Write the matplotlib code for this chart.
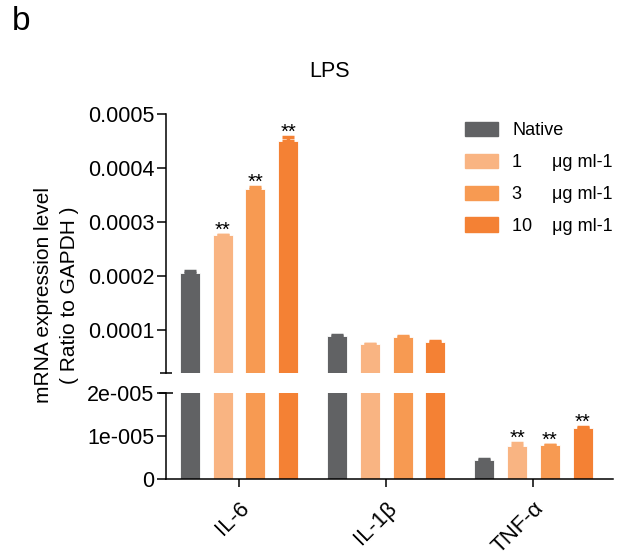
import numpy as np
import matplotlib.pyplot as plt
from matplotlib.patches import Patch

plt.rcParams['font.family'] = ['Liberation Sans', 'DejaVu Sans']

genes = ['IL-6', 'IL-1β', 'TNF-α']
groups = ['Native', '1', '3', '10']
group_labels = ['Native', '1      μg ml-1', '3      μg ml-1', '10    μg ml-1']
colors = ['#616264', '#f9b482', '#f79a52', '#f48134']

# mean expression (ratio to GAPDH), one list per dose, in gene order
native = [0.000205, 0.000089, 0.0000045]
dose1 = [0.000275, 0.0000725, 0.0000076]
dose3 = [0.000360, 0.000086, 0.0000079]
dose10 = [0.000450, 0.0000762, 0.0000119]

# upper SD
native_err = [0.000003, 0.000001, 0.0000001]
dose1_err = [0.0000005, 0.000001, 0.0000008]
dose3_err = [0.000004, 0.000002, 0.0000001]
dose10_err = [0.000007, 0.000003, 0.0000002]

# significance vs native
native_sig = ['', '', '']
dose1_sig = ['**', '', '**']
dose3_sig = ['**', '', '**']
dose10_sig = ['**', '', '**']

means = [native, dose1, dose3, dose10]
errs = [native_err, dose1_err, dose3_err, dose10_err]
sigs = [native_sig, dose1_sig, dose3_sig, dose10_sig]

up_ticks = [0.0001, 0.0002, 0.0003, 0.0004, 0.0005]
low_ticks = [0, 0.00001, 0.00002]
low_tick_labels = ['0', '1e-005', '2e-005']

fig = plt.figure(figsize=(6.25, 5.57), dpi=100)
ax_up = fig.add_axes([0.2656, 0.3309, 0.7152, 0.4644])
ax_lo = fig.add_axes([0.2656, 0.1395, 0.7152, 0.1555])

x = np.arange(len(genes))
step = 0.222
width = 0.136

for ax in (ax_up, ax_lo):
    for i in range(len(groups)):
        xs = x + (i - 1.5) * step
        ax.bar(xs, means[i], width=width, color=colors[i], edgecolor='white',
               linewidth=0.6, label=group_labels[i])
        ax.errorbar(xs, means[i], yerr=[np.zeros(len(genes)), errs[i]], fmt='none',
                    ecolor=colors[i], elinewidth=2.5, capsize=4.5, capthick=2.5)
    ax.set_xlim(-0.496, 2.54)
    for s in ['top', 'right']:
        ax.spines[s].set_visible(False)
    for s in ['left', 'bottom']:
        ax.spines[s].set_linewidth(1.1)
    ax.tick_params(axis='y', direction='out', length=6.5, width=1.1, labelsize=15.5, pad=2)

ax_up.set_ylim(0.00002, 0.0005)
ax_up.set_yticks(up_ticks)
ax_up.set_yticklabels([f'{v:.4f}' for v in up_ticks])
ax_up.spines['bottom'].set_visible(False)
ax_up.tick_params(axis='x', bottom=False, labelbottom=False)
ax_up.plot(0, 0, marker='_', markersize=8.5, mew=1.1, color='black',
           transform=ax_up.transAxes, clip_on=False)

ax_lo.set_ylim(0, 0.00002)
ax_lo.set_yticks(low_ticks)
ax_lo.set_yticklabels(low_tick_labels)
ax_lo.plot(0, 1, marker='_', markersize=10, mew=1.1, color='black',
           transform=ax_lo.transAxes, clip_on=False)
ax_lo.set_xticks(x)
ax_lo.set_xticklabels(genes, rotation=45, ha='right', va='top', rotation_mode='anchor',
                      fontsize=16)
ax_lo.tick_params(axis='x', direction='out', length=5.5, width=1.1, pad=8)

# significance marks above the error caps
for ax, lo, hi in ((ax_up, 0.00002, 0.0005), (ax_lo, 0, 0.00002)):
    for i in range(len(groups)):
        for j in range(len(genes)):
            top = means[i][j] + errs[i][j]
            if sigs[i][j] and lo < top <= hi:
                ax.annotate(sigs[i][j], (x[j] + (i - 1.5) * step, top),
                            xytext=(0, -0.5), textcoords='offset points',
                            ha='center', va='baseline', fontsize=14.5)

handles = [Patch(color=c) for c in colors]
fig.legend(handles, group_labels, loc='upper left', bbox_to_anchor=(0.744, 0.781),
           frameon=False, fontsize=13, handlelength=1.83, handleheight=0.83,
           handletextpad=0.78, labelspacing=0.8, borderpad=0, borderaxespad=0)

fig.text(0.528, 0.871, 'LPS', ha='center', va='center', fontsize=15.5)
fig.text(0.090, 0.47, 'mRNA expression level\n( Ratio to GAPDH )', rotation=90,
         ha='center', va='center', fontsize=15, linespacing=1.45)
fig.text(0.019, 0.946, 'b', fontsize=24, va='baseline')

fig.savefig('out.png', dpi=100)
